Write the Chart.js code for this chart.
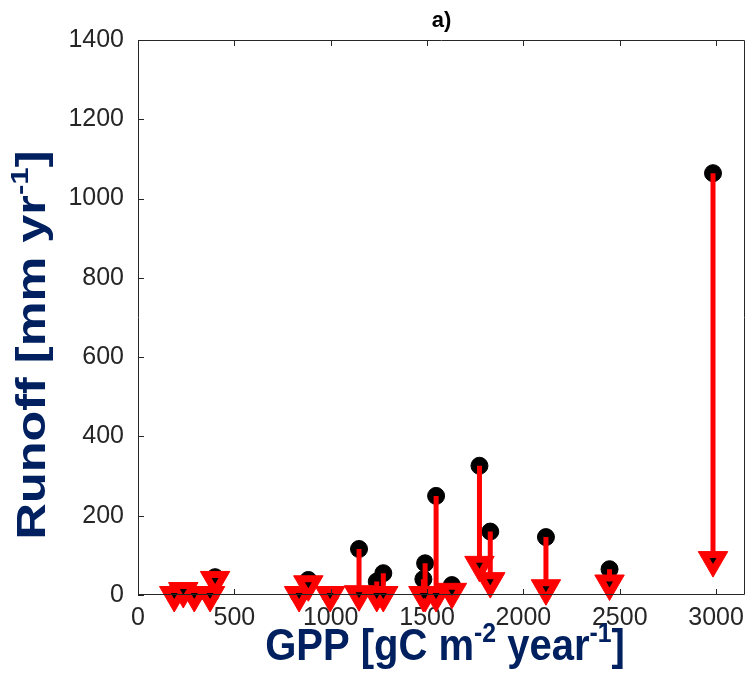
<!DOCTYPE html>
<html>
<head>
<meta charset="utf-8">
<script src="https://cdn.jsdelivr.net/npm/chart.js@4.4.1/dist/chart.umd.min.js"></script>
<style>
  html, body { margin: 0; padding: 0; background: #fff; overflow: hidden; }
  #wrap { position: relative; width: 745px; height: 697px; }
  #wrap canvas { display: block; }
</style>
</head>
<body>
<div id="wrap"><canvas id="myChart"></canvas></div>
<script>
// site values
var gppValues     = [188, 235, 292, 374, 400, 836, 884, 997, 1147, 1239, 1273, 1481, 1490, 1547, 1629, 1772, 1828, 2117, 2447, 2984];
var runoffBefore  = [5, 10, 0, 0, 45, 0, 38, 0, 116, 34, 55, 40, 80, 250, 25, 326, 160, 146, 65, 1064];
var runoffAfter   = [0, 10, 0, 0, 38, 0, 27, 0, 2, 0, 0, 0, 0, 0, 8, 76, 35, 17, 29, 88];

var xTickValues = [0, 500, 1000, 1500, 2000, 2500, 3000];
var yTickValues = [0, 200, 400, 600, 800, 1000, 1200, 1400];

var axisColor = "#262626";
var labelColor = "#002060";
var fontName = "'Liberation Sans', Arial, sans-serif";

function pts(ys) {
  var out = [];
  for (var i = 0; i < gppValues.length; i++) out.push({x: gppValues[i], y: ys[i]});
  return out;
}

function arrows() {
  // pairs of points, broken by a null so each site gets its own segment
  var out = [];
  for (var i = 0; i < gppValues.length; i++) {
    out.push({x: gppValues[i], y: runoffBefore[i]});
    out.push({x: gppValues[i], y: runoffAfter[i]});
    out.push({x: gppValues[i], y: null});
  }
  return out;
}

function setTicks(values) {
  return function(scale) {
    scale.ticks = values.map(function(v) { return {value: v}; });
  };
}

// box round the plot with inward ticks, like the original figure
var frame = {
  id: "frame",
  afterDatasetsDraw: function(chart) {
    var ctx = chart.ctx, a = chart.chartArea;
    var xs = chart.scales.x, ys = chart.scales.y;
    ctx.save();
    ctx.strokeStyle = axisColor;
    ctx.lineWidth = 1;
    ctx.beginPath();
    ctx.rect(a.left + 0.5, a.top + 0.5, a.right - a.left - 1, a.bottom - a.top - 1);
    xs.ticks.forEach(function(t) {
      var px = Math.round(xs.getPixelForValue(t.value)) + 0.5;
      ctx.moveTo(px, a.bottom); ctx.lineTo(px, a.bottom - 6);
      ctx.moveTo(px, a.top); ctx.lineTo(px, a.top + 6);
    });
    ys.ticks.forEach(function(t) {
      var py = Math.round(ys.getPixelForValue(t.value)) + 0.5;
      ctx.moveTo(a.left, py); ctx.lineTo(a.left + 6, py);
    });
    ctx.stroke();
    ctx.restore();
  }
};

// axis titles with real superscripts, a bit stretched like the source image
function richText(ctx, parts, size) {
  var w = 0, i;
  for (i = 0; i < parts.length; i++) {
    ctx.font = "bold " + (parts[i].sup ? size * 0.62 : size) + "px " + fontName;
    parts[i].w = ctx.measureText(parts[i].t).width;
    w += parts[i].w;
  }
  var x = -w / 2;
  for (i = 0; i < parts.length; i++) {
    ctx.font = "bold " + (parts[i].sup ? size * 0.62 : size) + "px " + fontName;
    ctx.fillText(parts[i].t, x, parts[i].sup ? -size * 0.42 : 0);
    x += parts[i].w;
  }
}

var xTitle = [{t: "GPP [gC m"}, {t: "-2", sup: true}, {t: " year"}, {t: "-1", sup: true}, {t: "]"}];
var yTitle = [{t: "Runoff [mm yr"}, {t: "-1", sup: true}, {t: "]"}];

var titles = {
  id: "titles",
  afterDraw: function(chart) {
    var ctx = chart.ctx;
    ctx.save();
    ctx.fillStyle = labelColor;
    ctx.textBaseline = "alphabetic";
    ctx.textAlign = "left";
    ctx.translate(445, 660);
    ctx.scale(1.0, 1.1);
    richText(ctx, xTitle, 40);
    ctx.restore();

    ctx.save();
    ctx.fillStyle = labelColor;
    ctx.textBaseline = "alphabetic";
    ctx.textAlign = "left";
    ctx.translate(45, 345);
    ctx.rotate(-Math.PI / 2);
    ctx.scale(1.2, 0.95);
    richText(ctx, yTitle, 42);
    ctx.restore();
  }
};

new Chart("myChart", {
  type: "scatter",
  data: {
    datasets: [
      {
        label: "before",
        data: pts(runoffBefore),
        pointStyle: "circle",
        pointRadius: 8.5,
        backgroundColor: "#000",
        borderColor: "#000",
        borderWidth: 1,
        clip: false,
        order: 4
      },
      {
        label: "change",
        data: arrows(),
        showLine: true,
        spanGaps: false,
        borderColor: "#ff0000",
        borderWidth: 5,
        pointRadius: 0,
        clip: false,
        order: 3
      },
      {
        label: "after",
        data: pts(runoffAfter),
        pointStyle: "triangle",
        rotation: 180,
        pointRadius: 17,
        backgroundColor: "#ff0000",
        borderColor: "#ff0000",
        borderWidth: 1,
        clip: false,
        order: 2
      },
      {
        label: "after-dot",
        data: pts(runoffAfter),
        pointStyle: "triangle",
        rotation: 180,
        pointRadius: 4,
        backgroundColor: "#000",
        borderColor: "#000",
        borderWidth: 0,
        clip: false,
        order: 1
      }
    ]
  },
  options: {
    responsive: true,
    maintainAspectRatio: false,
    animation: false,
    events: [],
    layout: {padding: 0, autoPadding: false},
    plugins: {
      legend: {display: false},
      tooltip: {enabled: false},
      title: {
        display: true,
        fullSize: false,
        text: "a)",
        color: "#000",
        font: {family: fontName, size: 22, weight: "bold", lineHeight: 1.2},
        padding: {top: 8, bottom: 5.6}
      }
    },
    scales: {
      x: {
        type: "linear",
        min: 0, max: 3150,
        grid: {display: false, drawTicks: false},
        border: {display: false},
        afterBuildTicks: setTicks(xTickValues),
        ticks: {color: axisColor, padding: 8,
                font: {family: fontName, size: 25},
                callback: function(v) { return String(v); }},
        afterFit: function(s) { s.height = 102; s.paddingLeft = 0; s.paddingRight = 0; }
      },
      y: {
        type: "linear",
        min: 0, max: 1400,
        grid: {display: false, drawTicks: false},
        border: {display: false},
        afterBuildTicks: setTicks(yTickValues),
        ticks: {color: axisColor, padding: 14,
                font: {family: fontName, size: 25},
                callback: function(v) { return String(v); }},
        afterFit: function(s) { s.width = 138; }
      }
    }
  },
  plugins: [frame, titles]
});
</script>
</body>
</html>
